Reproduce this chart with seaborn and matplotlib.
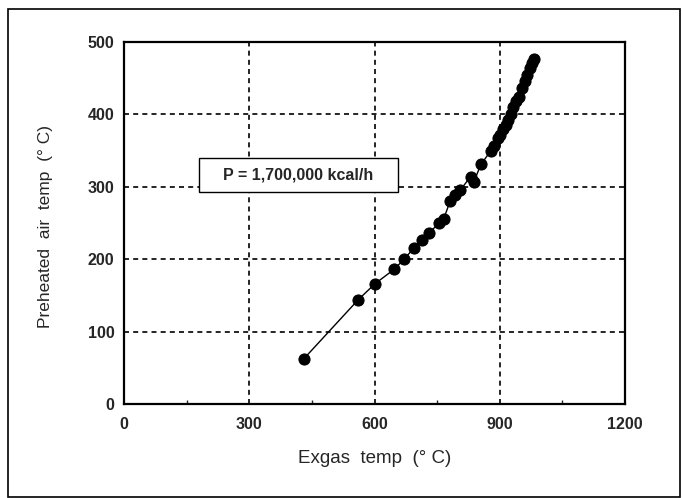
import matplotlib
matplotlib.use("Agg")
import matplotlib.pyplot as plt
from matplotlib.patches import Rectangle
from matplotlib.ticker import MultipleLocator
import seaborn as sns
import pandas as pd

exgas_temp = [430, 561, 601, 647, 671, 695, 713, 731, 754, 766, 781, 793, 805,
              830, 838, 855, 879, 887, 896, 901, 908, 914, 919, 926, 932, 939,
              946, 953, 960, 966, 972, 977, 982]
air_temp = [62, 144, 166, 186, 200, 216, 227, 236, 250, 256, 280, 288, 295,
            314, 307, 331, 350, 356, 367, 372, 380, 386, 392, 400, 410, 418,
            424, 436, 446, 455, 464, 471, 477]
x_ticks = [0, 300, 600, 900, 1200]
y_ticks = [0, 100, 200, 300, 400, 500]
annotation = "P = 1,700,000 kcal/h"

df = pd.DataFrame({"Exgas temp": exgas_temp, "Preheated air temp": air_temp})

sns.set_style("white")
plt.rcParams['font.family'] = ['Liberation Sans', 'DejaVu Sans']

fig = plt.figure(figsize=(6.82, 4.98), dpi=100)
W, H = 682, 498
ax = fig.add_axes([124 / W, 1 - 404 / H, (625 - 124) / W, (404 - 42) / H])

# outer frame
fig.patches.append(Rectangle((8 / W, 1 - 497 / H), (680 - 8) / W, (497 - 9) / H,
                             transform=fig.transFigure, fill=False,
                             edgecolor='black', linewidth=1.2, zorder=0))

sns.lineplot(data=df, x="Exgas temp", y="Preheated air temp", sort=False,
             marker='o', markersize=8, color='black', markeredgecolor='black',
             linewidth=1.0, ax=ax, zorder=5)

ax.set_xlim(0, 1200)
ax.set_ylim(0, 500)
ax.set_xticks(x_ticks)
ax.set_yticks(y_ticks)
ax.xaxis.set_minor_locator(MultipleLocator(150))
ax.tick_params(axis='both', which='major', length=0, labelsize=11.5, pad=7)
ax.tick_params(axis='x', which='major', pad=9)
ax.tick_params(axis='x', which='minor', direction='in', length=3, width=1, bottom=True)
for lab in ax.get_xticklabels() + ax.get_yticklabels():
    lab.set_fontweight('bold')

for v in [300, 600, 900]:
    ax.axvline(v, color='black', linestyle=(0, (3, 2.5)), linewidth=1.2, zorder=1)
for v in [100, 200, 300, 400]:
    ax.axhline(v, color='black', linestyle=(0, (3, 2.5)), linewidth=1.2, zorder=1)

for s in ax.spines.values():
    s.set_visible(True)
    s.set_color('black')
    s.set_linewidth(1.6)

ax.set_xlabel("Exgas  temp  (° C)", fontsize=13.5)
ax.set_ylabel("Preheated  air  temp  (° C)", fontsize=12.5)
ax.xaxis.set_label_coords(0.5, -0.127)
ax.yaxis.set_label_coords(-0.142, 0.49)

ax.add_patch(Rectangle((180, 293), 476, 47, facecolor='white', edgecolor='black',
                       linewidth=1.0, zorder=3))
ax.text(418, 316.5, annotation, ha='center', va='center', fontsize=11.5,
        fontweight='bold', zorder=4)

fig.savefig("out.png", dpi=100)
